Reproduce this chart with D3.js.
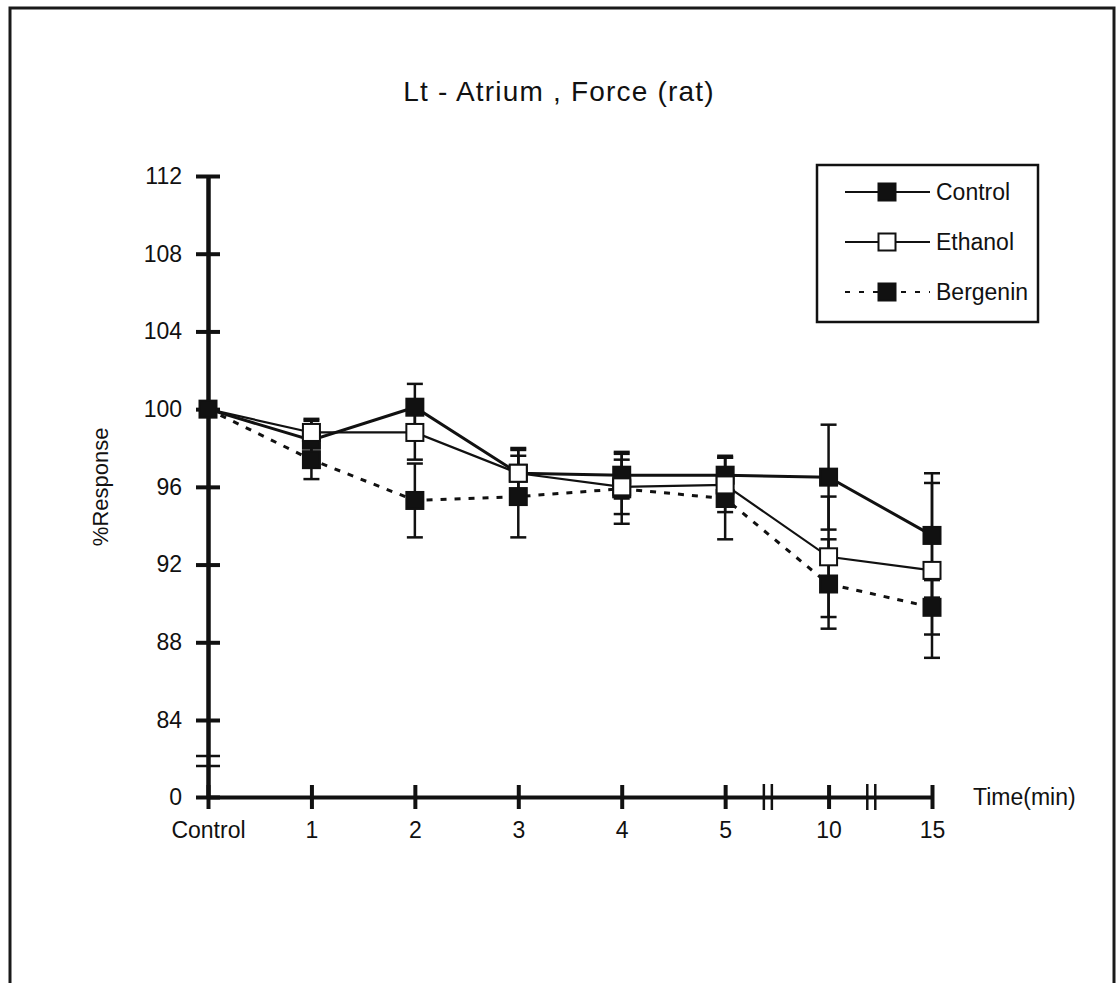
<!DOCTYPE html>
<html>
<head>
<meta charset="utf-8">
<script src="https://cdn.jsdelivr.net/npm/d3@7"></script>
<style>
  body { margin: 0; background: #fff; }
  text { font-family: "Liberation Sans", Arial, sans-serif; fill: #111; }
</style>
</head>
<body>
<script>
const W = 1117, H = 983;

// data
const timeLabels = ["Control", "1", "2", "3", "4", "5", "10", "15"];
const yTicks = [0, 84, 88, 92, 96, 100, 104, 108, 112];
const controlMean = [100, 98.4, 100.1, 96.7, 96.6, 96.6, 96.5, 93.5];
const controlErr = [0, 1.1, 1.2, 1.3, 1.2, 1.0, 2.7, 3.2];
const ethanolMean = [100, 98.8, 98.8, 96.7, 96.0, 96.1, 92.4, 91.7];
const ethanolErr = [0, 0.6, 1.4, 1.2, 1.4, 1.4, 3.1, 4.5];
const bergeninMean = [100, 97.4, 95.3, 95.5, 95.9, 95.4, 91.0, 89.8];
const bergeninErr = [0, 1.0, 1.9, 2.1, 1.8, 2.1, 2.3, 1.4];
const seriesNames = ["Control", "Ethanol", "Bergenin"];

const series = [
  {name: "Bergenin", mean: bergeninMean, err: bergeninErr, fill: "#111", dash: "6,8", width: 3},
  {name: "Control", mean: controlMean, err: controlErr, fill: "#111", dash: null, width: 3},
  {name: "Ethanol", mean: ethanolMean, err: ethanolErr, fill: "#fff", dash: null, width: 2.2}
];

const svg = d3.select("body").append("svg")
  .attr("width", W)
  .attr("height", H);

svg.append("rect").attr("width", W).attr("height", H).attr("fill", "#fff");

// outer frame (bottom edge falls outside the picture)
svg.append("rect")
  .attr("x", 10).attr("y", 8)
  .attr("width", 1104).attr("height", 1020)
  .attr("fill", "none")
  .attr("stroke", "#1a1a1a")
  .attr("stroke-width", 3);

svg.append("text")
  .attr("x", 559).attr("y", 101)
  .attr("text-anchor", "middle")
  .style("font-size", "28px")
  .style("letter-spacing", "1.2px")
  .text("Lt - Atrium , Force (rat)");

const x = d3.scalePoint().domain(timeLabels).range([208, 932]);
// broken axis: 0 sits below the 84..112 part
const y = d3.scaleLinear().domain([0, 84, 112]).range([797, 720, 176]);

// y axis
const yAxis = d3.axisLeft(y).tickValues(yTicks).tickSizeInner(12).tickSizeOuter(0).tickPadding(14);
const gy = svg.append("g").attr("transform", "translate(208,0)").call(yAxis);
gy.select(".domain").attr("stroke", "#111").attr("stroke-width", 4.5);
gy.selectAll(".tick line").attr("x1", 12).attr("stroke", "#111").attr("stroke-width", 4);
gy.selectAll(".tick text").style("font-size", "23px").attr("fill", "#111");

// y break marks
[36, 46].forEach(off => {
  svg.append("line")
    .attr("x1", 196).attr("x2", 220)
    .attr("y1", y(84) + off).attr("y2", y(84) + off)
    .attr("stroke", "#111").attr("stroke-width", 2.5);
});

// x axis
const xAxis = d3.axisBottom(x).tickSizeInner(12).tickSizeOuter(0).tickPadding(13);
const gx = svg.append("g").attr("transform", "translate(0," + y(0) + ")").call(xAxis);
gx.select(".domain").attr("stroke", "#111").attr("stroke-width", 4);
gx.selectAll(".tick line").attr("y1", -12).attr("stroke", "#111").attr("stroke-width", 4);
gx.selectAll(".tick text").style("font-size", "23px").attr("fill", "#111");

// x break marks between 5-10 and 10-15
[["5", "10"], ["10", "15"]].forEach(([a, b]) => {
  const mid = (x(a) + x(b)) / 2 - 9;
  [-4, 4].forEach(off => {
    svg.append("line")
      .attr("x1", mid + off).attr("x2", mid + off)
      .attr("y1", y(0) - 13).attr("y2", y(0) + 13)
      .attr("stroke", "#111").attr("stroke-width", 2.5);
  });
});

svg.append("text")
  .attr("x", 973).attr("y", y(0) + 8)
  .style("font-size", "23px")
  .text("Time(min)");

svg.append("text")
  .attr("transform", "translate(108," + y(96) + ") rotate(-90)")
  .attr("text-anchor", "middle")
  .style("font-size", "22px")
  .text("%Response");

// error bars
const capW = 8;
series.forEach(s => {
  const g = svg.append("g");
  timeLabels.forEach((t, i) => {
    if (!s.err[i]) return;
    const cx = x(t), hi = y(s.mean[i] + s.err[i]), lo = y(s.mean[i] - s.err[i]);
    g.append("line").attr("x1", cx).attr("x2", cx).attr("y1", hi).attr("y2", lo)
      .attr("stroke", "#111").attr("stroke-width", 2.5);
    [hi, lo].forEach(yy => g.append("line")
      .attr("x1", cx - capW).attr("x2", cx + capW).attr("y1", yy).attr("y2", yy)
      .attr("stroke", "#111").attr("stroke-width", 2.5));
  });
});

// lines and markers; the shared starting point shows the Control marker
const line = d3.line().x((d, i) => x(timeLabels[i])).y(d => y(d));
const mk = 17;
series.forEach(s => {
  svg.append("path")
    .attr("d", line(s.mean))
    .attr("fill", "none")
    .attr("stroke", "#111")
    .attr("stroke-width", s.width)
    .attr("stroke-dasharray", s.dash);
});
series.forEach(s => {
  const pts = s.mean.map((d, i) => ({t: timeLabels[i], v: d}))
    .filter(p => s.name === "Control" || p.t !== "Control");
  svg.append("g").selectAll("rect")
    .data(pts)
    .join("rect")
    .attr("x", p => x(p.t) - mk / 2)
    .attr("y", p => y(p.v) - mk / 2)
    .attr("width", mk).attr("height", mk)
    .attr("fill", s.fill)
    .attr("stroke", "#111")
    .attr("stroke-width", 2);
});

// legend
const legend = svg.append("g");
legend.append("rect")
  .attr("x", 817).attr("y", 165).attr("width", 221).attr("height", 157)
  .attr("fill", "#fff").attr("stroke", "#111").attr("stroke-width", 2.5);

seriesNames.forEach((name, i) => {
  const s = series.find(d => d.name === name);
  const ly = 192 + i * 50;
  legend.append("line")
    .attr("x1", 845).attr("x2", 930).attr("y1", ly).attr("y2", ly)
    .attr("stroke", "#111").attr("stroke-width", 2)
    .attr("stroke-dasharray", s.dash ? "5,9" : null);
  legend.append("rect")
    .attr("x", 887 - mk / 2).attr("y", ly - mk / 2)
    .attr("width", mk).attr("height", mk)
    .attr("fill", s.fill).attr("stroke", "#111").attr("stroke-width", 2);
  legend.append("text")
    .attr("x", 936).attr("y", ly)
    .attr("dy", "0.35em")
    .style("font-size", "23px")
    .text(name);
});
</script>
</body>
</html>
